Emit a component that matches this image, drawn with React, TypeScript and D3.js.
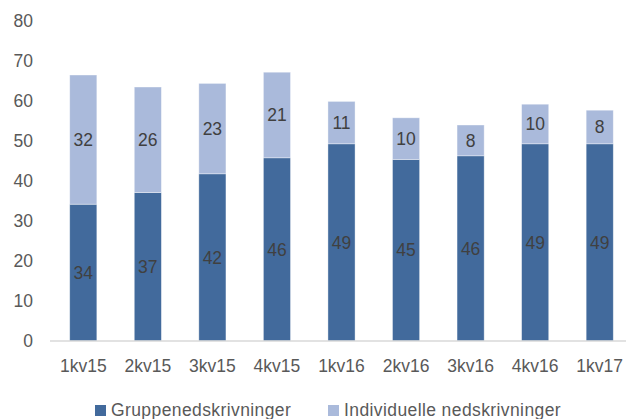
import React from "react";
import * as d3 from "d3";

const categories = ["1kv15", "2kv15", "3kv15", "4kv15", "1kv16", "2kv16", "3kv16", "4kv16", "1kv17"];
const gruppe = [34.2, 37.1, 41.8, 45.8, 49.3, 45.4, 46.3, 49.3, 49.3];
const individuelle = [32.3, 26.4, 22.6, 21.4, 10.6, 10.4, 7.7, 9.9, 8.4];
const yTicks = [0, 10, 20, 30, 40, 50, 60, 70, 80];
const seriesNames = ["Gruppenedskrivninger", "Individuelle nedskrivninger"];

const width = 626;
const height = 419;
const darkBlue = "#426a9c";
const lightBlue = "#aabadb";
const font = "'Liberation Sans', Arial, sans-serif";

export default function App() {
  const x = d3.scaleBand<string>()
    .domain(categories)
    .range([51, 632])
    .paddingInner(0.58)
    .paddingOuter(0.29);

  const y = d3.scaleLinear().domain([0, 80]).range([341, 21]);

  const stacked = d3.stack<number>()
    .keys(["g", "i"])
    .value((idx, key) => (key === "g" ? gruppe[idx] : individuelle[idx]))(
      categories.map((_, i) => i)
    );

  const colors = [darkBlue, lightBlue];

  return (
    <svg
      width={width}
      height={height}
      style={{ position: "absolute", left: 0, top: 0, background: "#fff" }}
      fontFamily={font}
    >
      {/* y tick labels */}
      {yTicks.map((t) => (
        <text key={t} x={33} y={y(t)} dy="0.35em" textAnchor="end" fontSize={17.5} fill="#595959">
          {t}
        </text>
      ))}

      {/* bars, labels show rounded values */}
      {stacked.map((layer, li) =>
        layer.map((d, i) => {
          const x0 = x(categories[i]) as number;
          const y0 = y(d[1]);
          const h = y(d[0]) - y(d[1]);
          const val = li === 0 ? gruppe[i] : individuelle[i];
          return (
            <g key={`${li}-${i}`}>
              <rect x={x0} y={y0} width={x.bandwidth()} height={h} fill={colors[li]} stroke="#fff" strokeOpacity={0.5} strokeWidth={0.75} />
              <text
                x={x0 + x.bandwidth() / 2}
                y={y0 + h / 2}
                dy="0.35em"
                textAnchor="middle"
                fontSize={17.5}
                fill="#404040"
              >
                {Math.round(val)}
              </text>
            </g>
          );
        })
      )}

      {/* x axis line */}
      <line x1={50} x2={width} y1={y(0)} y2={y(0)} stroke="#d9d9d9" strokeWidth={1.5} />

      {/* category labels */}
      {categories.map((c) => (
        <text
          key={c}
          x={(x(c) as number) + x.bandwidth() / 2}
          y={366}
          dy="0.35em"
          textAnchor="middle"
          fontSize={17.5}
          fill="#595959"
        >
          {c}
        </text>
      ))}

      {/* legend */}
      {seriesNames.map((name, i) => {
        const lx = i === 0 ? 95 : 328;
        return (
          <g key={name}>
            <rect x={lx} y={405} width={11} height={11} fill={colors[i]} />
            <text x={lx + 16} y={416} fontSize={17.5} letterSpacing={0.4} fill="#595959">
              {name}
            </text>
          </g>
        );
      })}
    </svg>
  );
}
